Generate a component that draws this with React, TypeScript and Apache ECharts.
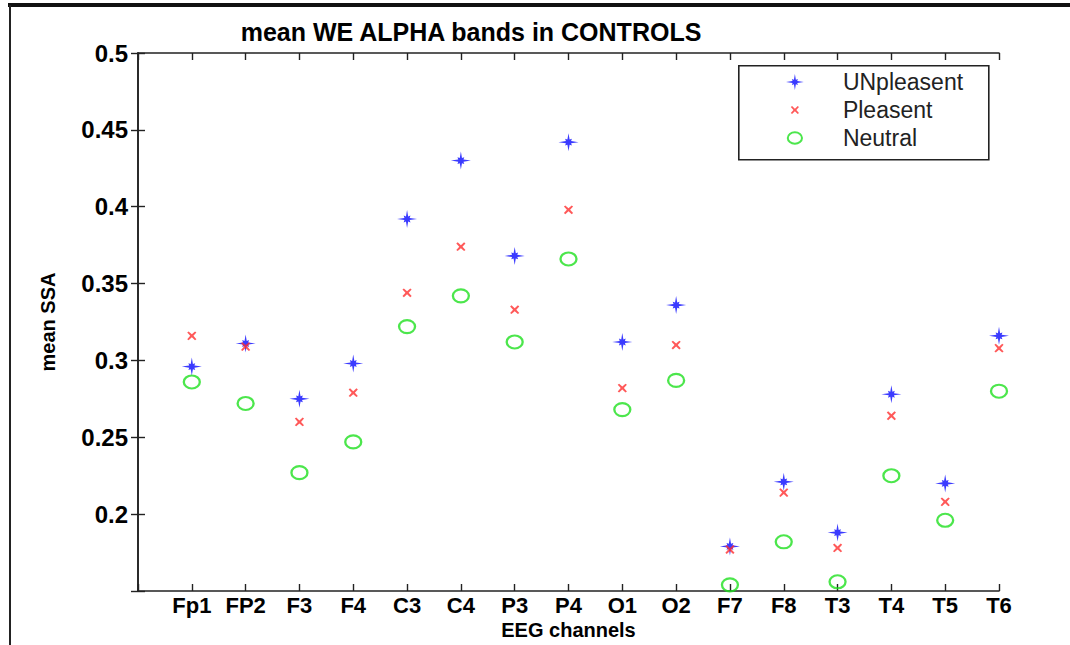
import React, { useEffect, useRef } from 'react';
import * as echarts from 'echarts';

const channels = ['Fp1', 'FP2', 'F3', 'F4', 'C3', 'C4', 'P3', 'P4', 'O1', 'O2', 'F7', 'F8', 'T3', 'T4', 'T5', 'T6'];
const unpleasentValues = [0.296, 0.311, 0.275, 0.298, 0.392, 0.430, 0.368, 0.442, 0.312, 0.336, 0.179, 0.221, 0.188, 0.278, 0.220, 0.316];
const pleasentValues = [0.316, 0.309, 0.260, 0.279, 0.344, 0.374, 0.333, 0.398, 0.282, 0.310, 0.177, 0.214, 0.178, 0.264, 0.208, 0.308];
const neutralValues = [0.286, 0.272, 0.227, 0.247, 0.322, 0.342, 0.312, 0.366, 0.268, 0.287, 0.154, 0.182, 0.156, 0.225, 0.196, 0.280];
const seriesNames = ['UNpleasent', 'Pleasent', 'Neutral'];

const FONT = '"Liberation Sans", Arial, Helvetica, sans-serif';

const STAR =
  'path://M-10,-9M10,9M10,0L2.6,1.1L3.4,3.4L1.1,2.6L0,9L-1.1,2.6L-3.4,3.4L-2.6,1.1L-10,0L-2.6,-1.1L-3.4,-3.4L-1.1,-2.6L0,-9L1.1,-2.6L3.4,-3.4L2.6,-1.1Z';
const XMARK =
  'path://M-10,-9M10,9M-4.6,-3.3L-3.2,-4.4L0,-1.5L3.2,-4.4L4.6,-3.3L1.6,0L4.6,3.3L3.2,4.4L0,1.5L-3.2,4.4L-4.6,3.3L-1.6,0Z';
const RING = 'path://M-10,-9M10,9M-8,0A8,6.5,0,1,1,8,0A8,6.5,0,1,1,-8,0Z';

const toPoints = (vals: number[]) => vals.map((v, i) => [i + 1, v]);

export default function App() {
  const ref = useRef<HTMLDivElement>(null);

  useEffect(() => {
    if (!ref.current) return;
    const chart = echarts.init(ref.current, null, { renderer: 'svg' });

    const axisLine = { show: true, lineStyle: { color: '#222', width: 1.6 } };
    const axisTick = { show: true, inside: true, length: 7, lineStyle: { color: '#222', width: 1.4 } };
    const labelStyle = { color: '#000', fontFamily: FONT, fontWeight: 'bold' as const, fontSize: 24 };

    const starStyle = { color: '#0a0aff' };
    const xStyle = { color: '#ff3030' };
    const ringStyle = { color: 'rgba(0,0,0,0)', borderColor: '#1fe01f', borderWidth: 2.2 };

    chart.setOption({
      animation: false,
      backgroundColor: '#fff',
      title: {
        text: 'mean WE ALPHA bands in CONTROLS',
        left: 466,
        top: 14,
        textAlign: 'center',
        textStyle: { color: '#000', fontFamily: FONT, fontWeight: 'bold', fontSize: 25 },
      },
      grid: { left: 138, right: 71, top: 53, bottom: 54, containLabel: false, outerBoundsMode: 'none' },
      legend: {
        orient: 'vertical',
        left: 738,
        top: 65,
        padding: [3, 10, 7, 47],
        itemGap: 0,
        itemWidth: 86,
        itemHeight: 16,
        textStyle: { color: '#222', fontFamily: FONT, fontSize: 23, lineHeight: 28 },
        data: [
          { name: seriesNames[0], icon: STAR, itemStyle: starStyle },
          { name: seriesNames[1], icon: XMARK, itemStyle: xStyle },
          { name: seriesNames[2], icon: RING, itemStyle: { ...ringStyle, borderWidth: 2 } },
        ],
      },
      xAxis: [
        {
          type: 'value',
          min: 0,
          max: 16,
          interval: 1,
          position: 'bottom',
          name: 'EEG channels',
          nameLocation: 'middle',
          nameGap: 29,
          nameMoveOverlap: false,
          nameTextStyle: { ...labelStyle, fontSize: 20, lineHeight: 20 },
          axisLine,
          axisTick,
          splitLine: { show: false },
          axisLabel: {
            ...labelStyle,
            fontSize: 22,
            lineHeight: 22,
            margin: 3,
            formatter: (v: number) => (v >= 1 && v <= 16 ? channels[Math.round(v) - 1] : ''),
          },
        },
        {
          type: 'value',
          min: 0,
          max: 16,
          interval: 1,
          position: 'top',
          axisLine,
          axisTick,
          splitLine: { show: false },
          axisLabel: { show: false },
        },
      ],
      yAxis: [
        {
          type: 'value',
          min: 0.15,
          max: 0.5,
          interval: 0.05,
          position: 'left',
          name: 'mean SSA',
          nameLocation: 'middle',
          nameRotate: 90,
          nameGap: 80,
          nameMoveOverlap: false,
          nameTextStyle: { ...labelStyle, fontSize: 20 },
          axisLine,
          axisTick,
          splitLine: { show: false },
          axisLabel: {
            ...labelStyle,
            margin: 10,
            formatter: (v: number) => (Math.abs(v - 0.15) < 1e-6 ? '' : String(+v.toFixed(2))),
          },
        },
        {
          type: 'value',
          min: 0.15,
          max: 0.5,
          interval: 0.05,
          position: 'right',
          axisLine,
          axisTick,
          splitLine: { show: false },
          axisLabel: { show: false },
        },
      ],
      series: [
        {
          name: seriesNames[0],
          type: 'scatter',
          symbol: STAR,
          symbolSize: [20, 18],
          itemStyle: starStyle,
          data: toPoints(unpleasentValues),
          z: 3,
        },
        {
          name: seriesNames[1],
          type: 'scatter',
          symbol: XMARK,
          symbolSize: [20, 18],
          itemStyle: xStyle,
          data: toPoints(pleasentValues),
          z: 4,
        },
        {
          name: seriesNames[2],
          type: 'scatter',
          symbol: RING,
          symbolSize: [20, 18],
          itemStyle: ringStyle,
          data: toPoints(neutralValues),
          z: 2,
        },
      ],
      graphic: [
        {
          type: 'rect',
          left: 738,
          top: 65,
          shape: { x: 0, y: 0, width: 250, height: 94 },
          style: { fill: 'rgba(0,0,0,0)', stroke: '#222', lineWidth: 1.6 },
          z: 10,
        },
        {
          type: 'line',
          shape: { x1: 8, y1: 5, x2: 1070, y2: 5 },
          style: { stroke: '#111', lineWidth: 4 },
        },
        {
          type: 'line',
          shape: { x1: 10, y1: 5, x2: 10, y2: 645 },
          style: { stroke: '#222', lineWidth: 2 },
        },
      ],
    });

    return () => chart.dispose();
  }, []);

  return (
    <div
      ref={ref}
      style={{ position: 'absolute', left: 0, top: 0, width: 1070, height: 645, background: '#fff' }}
    />
  );
}
